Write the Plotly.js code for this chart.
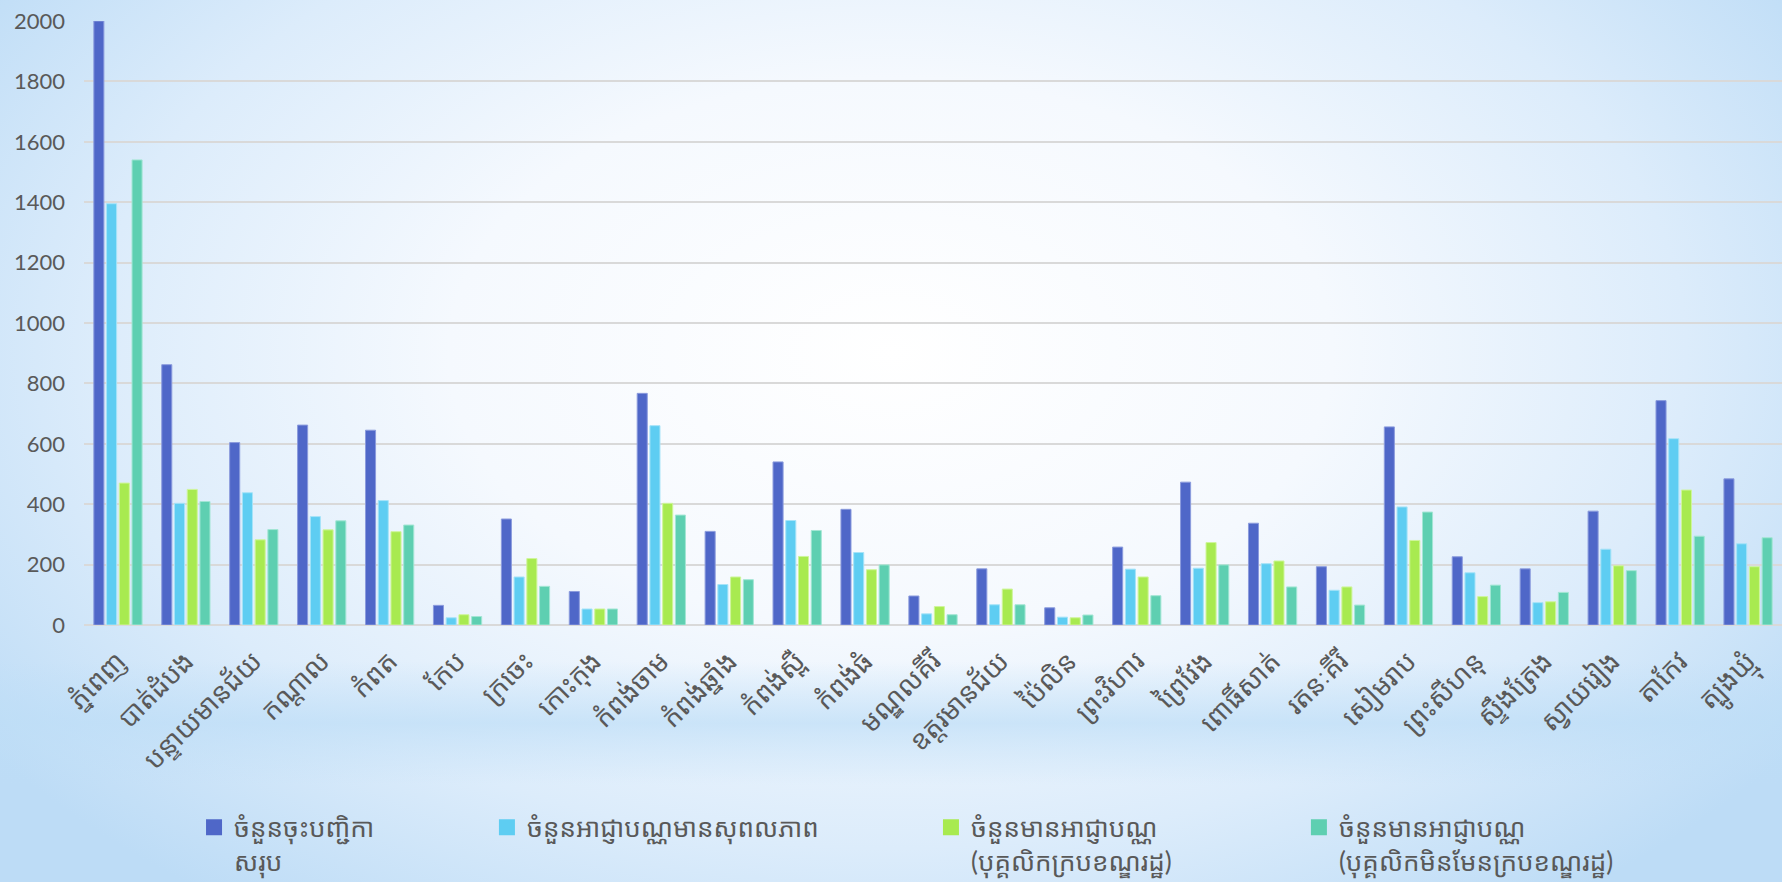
<!DOCTYPE html>
<html>
<head>
<meta charset="utf-8">
<script src="https://cdn.plot.ly/plotly-3.0.1.min.js"></script>
<style>
  html, body { margin: 0; padding: 0; width: 1782px; height: 882px; overflow: hidden; }
  body {
    background:
      linear-gradient(to bottom, rgba(190,222,247,0) 75%, rgba(190,222,247,0.7) 82%, rgba(190,222,247,0) 89%),
      radial-gradient(ellipse 62% 78% at 50% 40%, #ffffff 0%, #f5f9fe 40%, #dcecfb 72%, #bddcf6 100%);
  }
  #chart { width: 1782px; height: 882px; }
</style>
</head>
<body>
<div id="chart"></div>
<script>
// Categories (provinces)
const provinces = [
  "ភ្នំពេញ", "បាត់ដំបង", "បន្ទាយមានជ័យ", "កណ្ដាល", "កំពត", "កែប", "ក្រចេះ", "កោះកុង",
  "កំពង់ចាម", "កំពង់ឆ្នាំង", "កំពង់ស្ពឺ", "កំពង់ធំ", "មណ្ឌលគីរី", "ឧត្ដរមានជ័យ", "ប៉ៃលិន",
  "ព្រះវិហារ", "ព្រៃវែង", "ពោធិ៍សាត់", "រតនៈគីរី", "សៀមរាប", "ព្រះសីហនុ", "ស្ទឹងត្រែង",
  "ស្វាយរៀង", "តាកែវ", "ត្បូងឃ្មុំ"
];

// Series names
const seriesNames = [
  "ចំនួនចុះបញ្ជិកា<br>សរុប",
  "ចំនួនអាជ្ញាបណ្ណមានសុពលភាព",
  "ចំនួនមានអាជ្ញាបណ្ណ<br>(បុគ្គលិកក្របខណ្ឌរដ្ឋ)",
  "ចំនួនមានអាជ្ញាបណ្ណ<br>(បុគ្គលិកមិនមែនក្របខណ្ឌរដ្ឋ)"
];

// Series values
const totalRegistered = [2000, 862, 604, 662, 645, 65, 351, 111, 767, 310, 540, 383, 96, 186, 57, 258, 473, 337, 193, 656, 226, 186, 377, 743, 484];
const validLicense    = [1395, 403, 438, 359, 412, 24, 159, 53, 660, 134, 346, 240, 37, 67, 26, 185, 188, 203, 115, 391, 173, 74, 251, 617, 269];
const licensedCivil   = [470, 449, 282, 315, 309, 34, 220, 53, 403, 159, 227, 183, 61, 119, 24, 159, 273, 212, 126, 280, 94, 77, 196, 447, 193];
const licensedNonCivil= [1540, 409, 316, 345, 331, 28, 128, 53, 364, 150, 313, 199, 34, 67, 33, 97, 199, 126, 66, 374, 132, 108, 180, 294, 289];

// Y tick values
const yTicks = [0, 200, 400, 600, 800, 1000, 1200, 1400, 1600, 1800, 2000];

const colors = ["#4F67C8", "#5ECDF2", "#A8EA50", "#5ECFB1"];
const lineColors = ["#8B9BDD", "#A6E3F8", "#CFF59C", "#A3E6D4"];
const allValues = [totalRegistered, validLicense, licensedCivil, licensedNonCivil];
const legendIds = ["legend", "legend2", "legend3", "legend4"];
const legendX = [0.0648, 0.2373, 0.4988, 0.7155];

const FONT = "Lato, 'Noto Sans Khmer', 'Khmer OS', 'Khmer OS System', sans-serif";

const barTraces = allValues.map((vals, i) => ({
  type: "bar",
  name: seriesNames[i],
  x: provinces,
  y: vals,
  showlegend: false,
  marker: { color: colors[i], line: { color: lineColors[i], width: 1 } },
  hoverinfo: "x+y"
}));

// legend-only entries (square swatches); the single point has no y value, so nothing is drawn
const legendTraces = seriesNames.map((nm, i) => ({
  type: "scatter",
  mode: "markers",
  name: nm,
  x: [provinces[0]],
  y: [null],
  legend: legendIds[i],
  showlegend: true,
  marker: { symbol: "square", size: 16, color: colors[i], line: { width: 0 } },
  hoverinfo: "skip"
}));

function legendCfg(x) {
  return {
    orientation: "h",
    x: x,
    xanchor: "left",
    xref: "paper",
    y: -0.296,
    yanchor: "top",
    yref: "paper",
    valign: "top",
    font: { family: FONT, size: 26, color: "#595959" },
    bgcolor: "rgba(0,0,0,0)",
    borderwidth: 0,
    itemwidth: 30,
    visible: true
  };
}

const layout = {
  width: 1782,
  height: 882,
  paper_bgcolor: "rgba(0,0,0,0)",
  plot_bgcolor: "rgba(0,0,0,0)",
  margin: { l: 84, r: 0, t: 21, b: 257, autoexpand: false },
  font: { family: FONT, color: "#595959", size: 22 },
  barmode: "group",
  bargap: 0.25,
  bargroupgap: 0.21,
  showlegend: true,
  legend: legendCfg(legendX[0]),
  legend2: legendCfg(legendX[1]),
  legend3: legendCfg(legendX[2]),
  legend4: legendCfg(legendX[3]),
  xaxis: {
    type: "category",
    range: [-0.5, provinces.length - 0.5],
    tickangle: -45,
    tickfont: { family: FONT, size: 27, color: "#595959" },
    showgrid: false,
    showline: false,
    zeroline: false,
    ticks: "",
    ticklabelstandoff: 14,
    automargin: false,
    fixedrange: true
  },
  yaxis: {
    range: [0, 2000],
    tickvals: yTicks,
    ticktext: yTicks.map(String),
    tickfont: { family: FONT, size: 22, color: "#595959" },
    showgrid: true,
    gridcolor: "#D9D9D9",
    gridwidth: 2,
    zeroline: true,
    zerolinecolor: "#D9D9D9",
    zerolinewidth: 2,
    showline: false,
    ticks: "",
    ticklabelstandoff: 18,
    automargin: false,
    fixedrange: true
  }
};

Plotly.newPlot("chart", barTraces.concat(legendTraces), layout, { displayModeBar: false, staticPlot: true });
</script>
</body>
</html>
